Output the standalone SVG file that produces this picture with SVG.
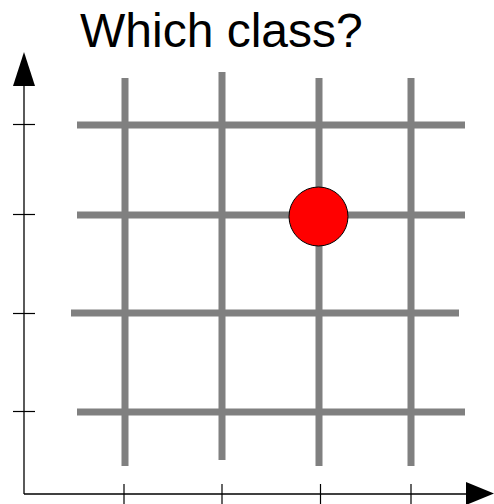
<svg xmlns="http://www.w3.org/2000/svg" width="494" height="504" viewBox="0 0 494 504">
<style>
.grid{stroke:#808080;stroke-width:7;fill:none}
.axis{stroke:#000;stroke-width:1.3;fill:none}
.tick{stroke:#000;stroke-width:1.2}
.title{font-family:"Liberation Sans",Arial,sans-serif;font-size:48px;fill:#000}
</style>
<rect width="494" height="504" fill="#fff"/>
<g id="title"><text class="title" x="80" y="47">Which class?</text></g>
<g id="grid">
<line class="grid" x1="77" y1="125" x2="465" y2="125"/>
<line class="grid" x1="77" y1="215" x2="465" y2="215"/>
<line class="grid" x1="71" y1="313" x2="459" y2="313"/>
<line class="grid" x1="77" y1="412" x2="465" y2="412"/>
<line class="grid" x1="125" y1="78" x2="125" y2="466"/>
<line class="grid" x1="222" y1="72" x2="222" y2="460"/>
<line class="grid" x1="319" y1="78" x2="319" y2="466"/>
<line class="grid" x1="411" y1="78" x2="411" y2="466"/>
</g>
<g id="axes">
<line class="axis" x1="24" y1="494" x2="24" y2="84"/>
<polygon points="24,52 13,86 35,86" fill="#000"/>
<line class="axis" x1="24" y1="494" x2="468" y2="494"/>
<polygon points="494,493.5 466,482 466,505" fill="#000"/>
<line class="tick" x1="13" y1="124.5" x2="35" y2="124.5"/>
<line class="tick" x1="13" y1="214.5" x2="35" y2="214.5"/>
<line class="tick" x1="13" y1="313.5" x2="35" y2="313.5"/>
<line class="tick" x1="13" y1="411.5" x2="35" y2="411.5"/>
<line class="tick" x1="124" y1="484" x2="124" y2="504"/>
<line class="tick" x1="222" y1="484" x2="222" y2="504"/>
<line class="tick" x1="320.5" y1="484" x2="320.5" y2="504"/>
<line class="tick" x1="411" y1="484" x2="411" y2="504"/>
</g>
<g id="point"><circle cx="318.5" cy="216.5" r="29.5" fill="#ff0000" stroke="#000" stroke-width="1"/></g>
</svg>
